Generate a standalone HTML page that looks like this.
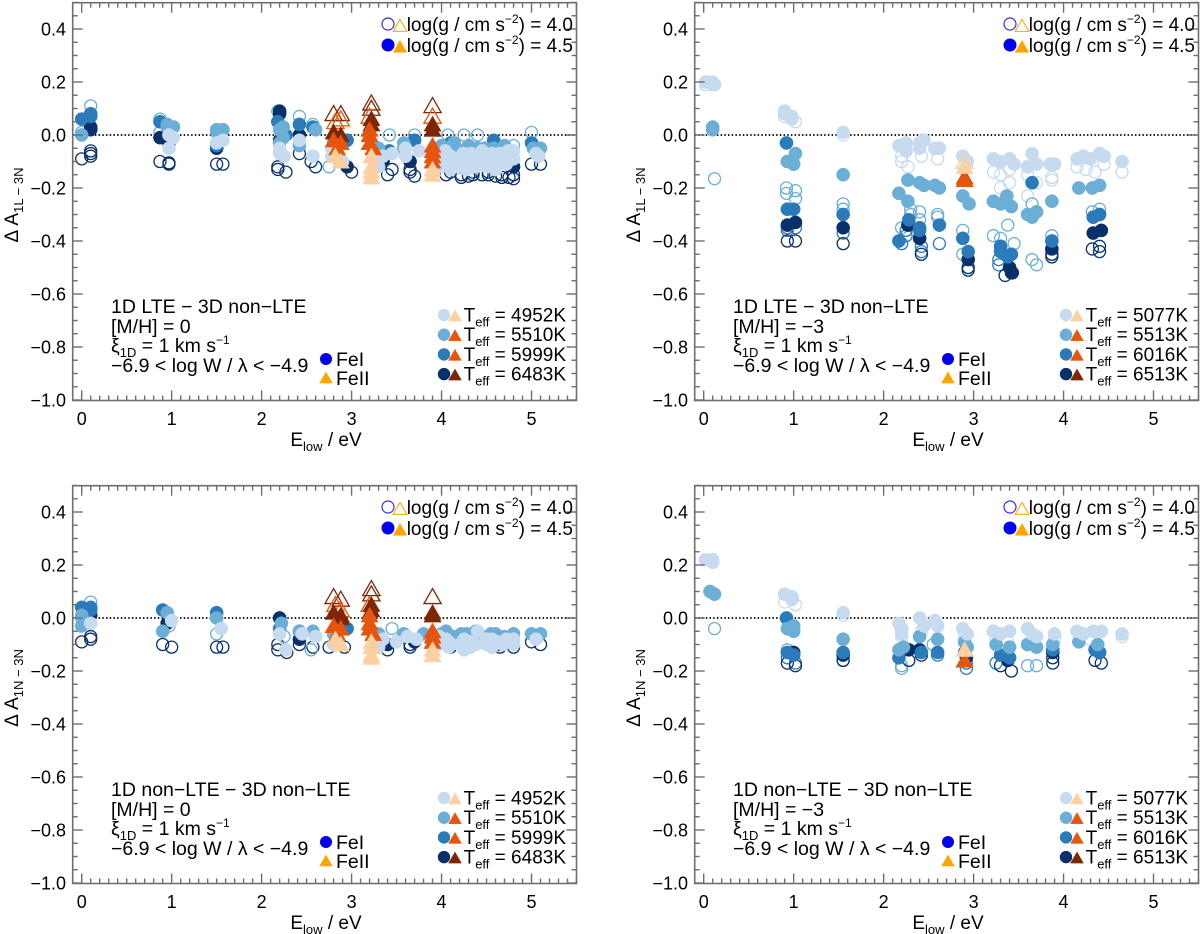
<!DOCTYPE html>
<html><head><meta charset="utf-8">
<style>
html,body{margin:0;padding:0;background:#fff;}
svg{display:block;font-family:"Liberation Sans",Arial,sans-serif;}
</style></head>
<body>
<svg id="fig" width="1200" height="934" viewBox="0 0 1200 934" xmlns="http://www.w3.org/2000/svg"></svg>
<script>
// ---- data (E_low eV, temperature index, filled(logg4.5)=1/open(logg4.0)=0, dA values) ----
const xTicks = [0,1,2,3,4,5];
const yTicks = [0.4,0.2,0.0,-0.2,-0.4,-0.6,-0.8,-1.0];
const yTickLabels = ["0.4","0.2","0.0","\u22120.2","\u22120.4","\u22120.6","\u22120.8","\u22121.0"];
const tempsA = ["4952K","5510K","5999K","6483K"];
const tempsB = ["5077K","5513K","6016K","6513K"];

const p1FeI = [
 [0.0,2,1,[0.06]],[0.0,1,1,[0.0]],[0.0,1,0,[0.01]],[0.0,3,0,[-0.09]],
 [0.1,1,0,[0.11]],[0.1,2,1,[0.08,0.07]],[0.1,3,1,[0.02,0.03]],[0.1,3,0,[-0.06,-0.08,-0.07]],
 [0.87,1,0,[0.06,0.01]],[0.87,2,1,[0.05]],[0.87,3,1,[-0.01]],[0.87,3,0,[-0.1]],
 [0.95,1,1,[0.04,0.03]],[0.97,0,1,[-0.05,0.0]],[0.97,3,1,[-0.02,-0.03]],[0.97,3,0,[-0.105,-0.11]],[1.02,1,1,[0.03]],[1.02,0,1,[-0.01]],
 [1.5,1,1,[0.02,0.01]],[1.5,0,1,[-0.03]],[1.5,3,1,[-0.05]],[1.5,2,1,[-0.04]],[1.5,3,0,[-0.11]],[1.57,1,1,[0.02]],[1.57,3,0,[-0.11]],[1.57,0,1,[-0.02]],
 [2.18,1,0,[0.09]],[2.2,3,1,[0.09,0.08]],[2.18,2,1,[0.05]],[2.2,1,1,[0.02,-0.03]],[2.2,0,1,[-0.05,-0.07]],[2.2,3,1,[-0.02]],[2.18,3,0,[-0.12,-0.13]],[2.27,3,0,[-0.14]],[2.25,0,1,[-0.08]],[2.24,1,1,[0.03,-0.01]],[2.27,2,1,[0.0]],
 [2.42,1,0,[0.07]],[2.42,2,1,[0.04]],[2.42,1,1,[-0.04]],[2.42,3,1,[0.0]],[2.42,3,0,[-0.07]],[2.42,0,1,[-0.02]],
 [2.57,1,0,[0.04]],[2.57,2,1,[0.03]],[2.6,1,1,[0.02]],[2.57,0,1,[-0.08]],[2.55,3,0,[-0.1]],[2.6,3,0,[-0.12]],
 [2.75,1,0,[-0.12]],[2.78,0,1,[-0.05,-0.08]],[2.8,1,1,[-0.03]],[2.95,3,1,[-0.12]],[3.0,3,0,[-0.14]],[2.95,2,1,[-0.02]],[2.9,0,1,[-0.1]],
 [3.3,1,1,[-0.05]],[3.35,0,1,[-0.08]],[3.35,3,1,[-0.1]],[3.4,3,0,[-0.15]],[3.3,0,1,[-0.12]],[3.42,2,1,[-0.06]],[3.42,1,0,[0.0]],[3.45,0,1,[-0.07]],
 [3.58,1,1,[-0.03,-0.05]],[3.6,0,1,[-0.05,-0.08]],[3.65,3,1,[-0.1]],[3.65,3,0,[-0.13,-0.14]],[3.7,1,0,[0.0]],[3.7,2,1,[-0.02]],[3.75,0,1,[-0.06]],
 [4.0,1,1,[-0.04]],[4.0,0,1,[-0.08]],[4.05,3,0,[-0.15]],[4.07,1,0,[0.0]],[4.1,2,1,[-0.03]],
 [4.15,1,1,[-0.05]],[4.18,0,1,[-0.09,-0.12]],[4.2,3,1,[-0.12]],[4.22,3,0,[-0.15,-0.16]],[4.25,1,0,[0.0]],
 [4.3,1,1,[-0.04,-0.06]],[4.33,0,1,[-0.1,-0.07]],[4.35,3,0,[-0.14,-0.15]],[4.4,1,0,[0.0]],[4.42,0,1,[-0.11]],
 [4.48,1,1,[-0.05]],[4.5,0,1,[-0.08,-0.12]],[4.52,3,0,[-0.15,-0.14]],[4.55,3,1,[-0.12]],[4.58,2,1,[-0.02]],
 [4.62,1,1,[-0.06]],[4.65,0,1,[-0.1,-0.07]],[4.67,3,0,[-0.16,-0.15]],[4.7,1,1,[-0.04]],[4.72,0,1,[-0.11]],
 [4.8,1,0,[-0.04]],[4.8,0,1,[-0.06,-0.09]],[4.8,3,1,[-0.12]],[4.8,3,0,[-0.15,-0.165]],
 [5.0,1,0,[0.01]],[5.0,2,1,[-0.03]],[5.02,1,1,[-0.05]],[5.05,0,1,[-0.07]],[5.0,3,0,[-0.11]],[5.1,3,0,[-0.11]],[5.1,1,1,[-0.05]],[5.08,0,1,[-0.08]],
 [3.97,0,1,[-0.1,-0.12]],[4.04,0,1,[-0.06,-0.11]],[4.1,0,1,[-0.08,-0.13]],[4.14,1,1,[-0.03]],[4.24,0,1,[-0.07,-0.11]],[4.28,0,1,[-0.13]],
 [4.38,0,1,[-0.08,-0.12]],[4.45,0,1,[-0.06,-0.1]],[4.56,0,1,[-0.07,-0.11]],[4.6,0,1,[-0.13]],[4.68,0,1,[-0.09]],[4.74,0,1,[-0.06]],
 [4.05,1,1,[-0.05]],[4.22,1,1,[-0.06]],[4.4,1,1,[-0.05]],[4.58,1,1,[-0.05]],
 [4.1,3,0,[-0.14]],[4.3,3,0,[-0.155]],[4.45,3,0,[-0.15]],[4.6,3,0,[-0.155]],[4.75,3,0,[-0.16]],[3.45,3,0,[-0.13]],[3.7,3,0,[-0.155]]
];
const p1FeII = [
 [2.8,3,0,[0.08]],[2.88,3,0,[0.08]],[2.82,2,0,[0.05]],[2.88,2,0,[0.06]],[2.8,3,1,[0.01]],[2.88,3,1,[0.0]],[2.8,2,1,[-0.02]],[2.88,2,1,[-0.03]],[2.84,1,1,[-0.05]],[2.82,0,1,[-0.08]],[2.88,0,1,[-0.1]],
 [3.22,3,0,[0.12,0.1]],[3.2,2,0,[0.07]],[3.22,3,1,[0.06,0.04]],[3.2,2,1,[0.02,0.0,-0.03]],[3.24,1,1,[-0.05]],[3.22,0,1,[-0.08,-0.12,-0.14,-0.16]],
 [3.9,3,0,[0.11]],[3.9,2,0,[0.07]],[3.9,3,1,[0.04,0.02]],[3.9,2,1,[-0.04,-0.06]],[3.9,1,1,[-0.08,-0.1]],[3.9,0,1,[-0.13,-0.15]]
];

const p2FeI = [
 [0.02,0,1,[0.2]],[0.1,0,1,[0.2,0.19]],[0.12,0,1,[0.19]],[0.02,0,0,[0.19]],[0.1,1,1,[0.03,0.02]],[0.12,1,0,[-0.165]],
 [0.9,0,1,[0.09,0.08]],[0.98,0,1,[0.07,0.06]],[0.9,0,0,[0.07]],[1.02,0,0,[0.05]],[0.92,2,1,[-0.03]],[1.02,1,1,[-0.07]],[0.93,1,1,[-0.1]],[1.0,1,1,[-0.11]],
 [0.92,1,0,[-0.2,-0.22]],[1.02,1,0,[-0.21,-0.24]],[0.93,2,1,[-0.28]],[1.0,2,1,[-0.28]],[0.93,3,1,[-0.34]],[1.02,3,1,[-0.33]],[0.93,2,0,[-0.35,-0.36]],[1.02,2,0,[-0.35]],[0.93,3,0,[-0.4]],[1.02,3,0,[-0.4]],
 [1.55,0,1,[0.01]],[1.55,0,0,[0.0]],[1.55,1,1,[-0.15]],[1.55,1,0,[-0.26,-0.28]],[1.55,2,1,[-0.3]],[1.55,3,1,[-0.35]],[1.55,2,0,[-0.37]],[1.55,3,0,[-0.41]],
 [2.17,0,1,[-0.04]],[2.25,0,1,[-0.03,-0.06]],[2.2,0,0,[-0.08,-0.1]],[2.27,0,0,[-0.12]],[2.17,1,1,[-0.22]],[2.27,1,1,[-0.17,-0.25]],[2.3,1,0,[-0.28,-0.3]],[2.2,1,0,[-0.35]],[2.28,2,1,[-0.32]],[2.17,2,1,[-0.4]],[2.27,3,1,[-0.34]],[2.25,2,0,[-0.36,-0.38]],[2.2,2,0,[-0.41]],
 [2.4,0,1,[-0.03,-0.05]],[2.45,0,1,[-0.02]],[2.42,0,0,[-0.08]],[2.4,1,1,[-0.18]],[2.45,1,1,[-0.19]],[2.4,1,0,[-0.29,-0.32]],[2.4,2,1,[-0.35,-0.36]],[2.4,3,1,[-0.39]],[2.42,2,0,[-0.42,-0.44]],[2.42,3,0,[-0.45]],
 [2.57,0,1,[-0.05]],[2.62,0,1,[-0.05]],[2.6,0,0,[-0.09]],[2.57,1,1,[-0.19]],[2.62,1,1,[-0.2]],[2.6,1,0,[-0.3,-0.31]],[2.62,2,1,[-0.34]],[2.62,2,0,[-0.41]],
 [2.88,0,1,[-0.08]],[2.93,0,1,[-0.1]],[2.9,0,0,[-0.13]],[2.88,1,1,[-0.23]],[2.95,1,1,[-0.26]],[2.88,1,0,[-0.36,-0.45]],[2.88,2,1,[-0.39]],[2.94,2,1,[-0.44]],[2.94,3,1,[-0.47]],[2.94,3,0,[-0.5,-0.51]],
 [3.22,0,1,[-0.09]],[3.3,0,1,[-0.1]],[3.4,0,1,[-0.09]],[3.45,0,1,[-0.11]],[3.22,0,0,[-0.14]],[3.3,0,0,[-0.15,-0.2]],[3.4,0,0,[-0.18,-0.13]],
 [3.22,1,1,[-0.25]],[3.3,1,1,[-0.26]],[3.37,1,1,[-0.23]],[3.42,1,1,[-0.27]],[3.22,1,0,[-0.38]],[3.3,1,0,[-0.39]],[3.38,1,0,[-0.34]],[3.45,1,0,[-0.41]],
 [3.3,2,1,[-0.42,-0.44]],[3.38,2,1,[-0.46]],[3.42,2,1,[-0.45]],[3.28,2,0,[-0.47,-0.49]],[3.4,3,1,[-0.5]],[3.43,3,1,[-0.52]],[3.35,3,0,[-0.53]],[3.42,3,0,[-0.52]],
 [3.6,0,1,[-0.12]],[3.65,0,1,[-0.07]],[3.7,0,1,[-0.11]],[3.6,0,0,[-0.15,-0.23]],[3.7,0,0,[-0.18]],[3.6,1,1,[-0.3]],[3.65,1,1,[-0.31]],[3.7,1,1,[-0.29]],[3.65,1,0,[-0.26,-0.47]],[3.7,1,0,[-0.49]],[3.65,2,1,[-0.18]],
 [3.85,0,1,[-0.11]],[3.9,0,1,[-0.11]],[3.87,0,0,[-0.16,-0.17]],[3.87,1,1,[-0.25]],[3.87,1,0,[-0.38]],[3.87,2,1,[-0.4]],[3.87,3,1,[-0.43]],[3.87,3,0,[-0.45,-0.46]],
 [4.15,0,1,[-0.09]],[4.22,0,1,[-0.08]],[4.3,0,1,[-0.09]],[4.4,0,1,[-0.07]],[4.45,0,1,[-0.08]],[4.15,0,0,[-0.12]],[4.25,0,0,[-0.13]],[4.35,0,0,[-0.14]],[4.45,0,0,[-0.11]],
 [4.17,1,1,[-0.2]],[4.32,1,1,[-0.2]],[4.4,1,1,[-0.19]],[4.32,1,0,[-0.29]],[4.4,1,0,[-0.28,-0.3]],[4.33,2,1,[-0.31]],[4.4,2,1,[-0.3]],[4.33,3,1,[-0.37]],[4.42,3,1,[-0.36]],[4.32,3,0,[-0.43]],[4.4,3,0,[-0.42,-0.44]],
 [4.65,0,1,[-0.1]],[4.65,0,0,[-0.14]]
];
const p2FeII = [
 [2.9,0,0,[-0.1]],[2.9,3,1,[-0.16]],[2.9,2,1,[-0.17]],[2.9,1,1,[-0.16]],[2.9,0,1,[-0.12]]
];

const p3FeI = [
 [0.0,2,1,[0.04]],[0.0,1,1,[0.01,-0.03]],[0.0,1,0,[0.0]],[0.0,3,0,[-0.09]],
 [0.1,1,0,[0.06]],[0.1,2,1,[0.04,0.03]],[0.1,3,1,[0.01]],[0.1,0,1,[-0.02]],[0.1,3,0,[-0.07,-0.08]],
 [0.9,2,1,[0.03]],[0.95,1,1,[0.02]],[1.0,0,1,[-0.01]],[0.95,3,1,[-0.02]],[0.9,1,1,[-0.05]],[0.97,1,0,[-0.03]],[0.9,3,0,[-0.1]],[1.0,3,0,[-0.11]],
 [1.5,2,1,[0.02]],[1.5,1,1,[0.0]],[1.55,0,1,[-0.04]],[1.5,1,0,[-0.06]],[1.5,3,0,[-0.11]],[1.57,3,0,[-0.11]],
 [2.2,3,1,[0.0]],[2.22,1,1,[-0.02]],[2.2,2,1,[-0.04]],[2.2,0,1,[-0.06]],[2.18,3,0,[-0.1,-0.12]],[2.27,0,1,[-0.12]],[2.25,1,0,[-0.07]],[2.28,3,0,[-0.13]],
 [2.42,1,1,[-0.05]],[2.45,0,1,[-0.06]],[2.42,3,1,[-0.08]],[2.42,3,0,[-0.1]],[2.42,2,1,[-0.05]],[2.57,1,1,[-0.05]],[2.6,0,1,[-0.07]],[2.57,3,0,[-0.11]],[2.55,1,0,[-0.12]],
 [2.8,1,1,[-0.06]],[2.85,0,1,[-0.08]],[2.92,3,0,[-0.11]],[2.95,2,1,[-0.04]],[2.75,3,0,[-0.11]],[2.8,0,1,[-0.1]],
 [3.3,1,1,[-0.06]],[3.35,0,1,[-0.08]],[3.4,3,1,[-0.1]],[3.4,3,0,[-0.12]],[3.45,1,0,[-0.04]],[3.3,0,1,[-0.11]],
 [3.58,1,1,[-0.06]],[3.62,0,1,[-0.07]],[3.7,3,1,[-0.09]],[3.65,3,0,[-0.1,-0.11]],[3.72,0,1,[-0.08]],
 [4.0,1,1,[-0.06]],[4.05,0,1,[-0.08]],[4.1,3,1,[-0.09]],[4.1,3,0,[-0.11]],[4.15,1,1,[-0.07]],[4.2,0,1,[-0.1]],
 [4.28,1,1,[-0.06]],[4.32,0,1,[-0.09,-0.11]],[4.35,3,0,[-0.1]],[4.4,0,1,[-0.05]],[4.45,1,1,[-0.07]],[4.5,0,1,[-0.08,-0.1]],
 [4.55,3,1,[-0.09]],[4.6,1,1,[-0.06]],[4.62,0,1,[-0.09]],[4.65,3,0,[-0.1,-0.11]],[4.7,1,1,[-0.07]],[4.72,0,1,[-0.08]],
 [4.8,0,1,[-0.08,-0.1]],[4.8,1,1,[-0.06]],[4.8,3,0,[-0.11]],
 [5.0,1,1,[-0.06]],[5.05,0,1,[-0.08]],[5.0,3,0,[-0.09]],[5.1,3,0,[-0.1]],[5.1,1,1,[-0.06]],
 [3.97,0,1,[-0.07,-0.1]],[4.08,0,1,[-0.09,-0.11]],[4.25,0,1,[-0.08,-0.12]],[4.38,0,1,[-0.1]],[4.56,0,1,[-0.08,-0.11]],[4.68,0,1,[-0.1]],
 [4.05,1,1,[-0.05]],[4.22,1,1,[-0.06]],[4.38,1,1,[-0.05]],[4.55,1,1,[-0.06]],[3.5,0,1,[-0.09]],[3.8,1,1,[-0.06]]
];
const p3FeII = [
 [2.8,3,0,[0.08]],[2.88,3,0,[0.07]],[2.82,2,0,[0.05]],[2.88,2,0,[0.03]],[2.8,3,1,[0.02]],[2.88,3,1,[0.0,0.01]],[2.8,2,1,[-0.03]],[2.88,2,1,[-0.04]],[2.84,1,1,[-0.06]],[2.82,0,1,[-0.08]],[2.88,0,1,[-0.1]],
 [3.22,3,0,[0.11,0.09]],[3.2,2,0,[0.05]],[3.22,3,1,[0.05,0.03]],[3.2,2,1,[0.01,-0.02,-0.04]],[3.24,1,1,[-0.06]],[3.22,0,1,[-0.09,-0.11,-0.14,-0.15]],
 [3.9,3,0,[0.08]],[3.9,3,1,[0.02,0.01]],[3.9,2,1,[-0.05,-0.07]],[3.9,1,1,[-0.09]],[3.9,0,1,[-0.12,-0.14]]
];

const p4FeI = [
 [0.02,0,1,[0.22]],[0.1,0,1,[0.22,0.21]],[0.07,1,1,[0.1]],[0.12,1,1,[0.09]],[0.12,1,0,[-0.04]],
 [0.9,0,1,[0.09]],[0.98,0,1,[0.08,0.07]],[0.9,0,0,[0.06]],[1.02,0,0,[0.05]],[0.92,2,1,[0.0]],[0.93,1,1,[-0.04]],[1.0,1,1,[-0.03,-0.05]],[0.93,1,0,[-0.12]],
 [0.93,2,1,[-0.13]],[1.0,2,1,[-0.14]],[1.0,3,1,[-0.13]],[0.93,2,0,[-0.15]],[1.02,2,0,[-0.17]],[0.93,3,0,[-0.17]],[1.02,3,0,[-0.18]],
 [1.55,0,1,[0.02]],[1.55,0,0,[0.01]],[1.55,1,1,[-0.08]],[1.55,2,1,[-0.13]],[1.55,3,1,[-0.14]],[1.55,2,0,[-0.16]],[1.55,3,0,[-0.16]],
 [2.17,0,1,[-0.02]],[2.2,0,1,[-0.04,-0.06]],[2.2,0,0,[-0.05,-0.07]],[2.17,1,1,[-0.12]],[2.22,1,1,[-0.11]],[2.17,2,1,[-0.15]],[2.2,1,0,[-0.18,-0.19]],[2.28,3,1,[-0.12]],[2.28,3,0,[-0.16]],
 [2.4,0,1,[0.0]],[2.45,0,1,[-0.03]],[2.42,0,0,[-0.05]],[2.4,1,1,[-0.07]],[2.4,3,1,[-0.12]],[2.42,2,1,[-0.13]],[2.42,3,0,[-0.14]],
 [2.57,0,1,[-0.01]],[2.6,0,1,[-0.03]],[2.6,1,1,[-0.08]],[2.55,1,0,[-0.1]],[2.6,2,1,[-0.13]],[2.6,2,0,[-0.14]],
 [2.88,0,1,[-0.04]],[2.93,0,1,[-0.06]],[2.9,0,0,[-0.07]],[2.9,1,1,[-0.09]],[2.93,1,1,[-0.11]],[2.9,2,1,[-0.13]],[2.92,3,1,[-0.15]],[2.92,2,0,[-0.19,-0.17]],
 [3.22,0,1,[-0.05]],[3.3,0,1,[-0.06]],[3.4,0,1,[-0.05]],[3.25,0,0,[-0.08]],[3.38,0,0,[-0.09]],[3.25,1,1,[-0.1]],[3.4,1,1,[-0.11]],[3.3,2,1,[-0.14]],[3.4,2,1,[-0.15]],[3.38,3,1,[-0.16]],[3.25,2,0,[-0.17]],[3.3,3,0,[-0.18]],[3.42,3,0,[-0.2]],
 [3.6,0,1,[-0.04]],[3.65,0,1,[-0.06]],[3.7,0,1,[-0.07]],[3.65,0,0,[-0.09]],[3.6,1,1,[-0.1]],[3.7,1,1,[-0.11]],[3.6,1,0,[-0.18]],[3.7,1,0,[-0.18]],
 [3.9,0,1,[-0.06]],[3.9,0,0,[-0.08]],[3.88,1,1,[-0.1]],[3.88,2,1,[-0.12]],[3.88,3,1,[-0.13]],[3.88,3,0,[-0.15,-0.17]],
 [4.15,0,1,[-0.05]],[4.22,0,1,[-0.06]],[4.33,0,1,[-0.05]],[4.42,0,1,[-0.05]],[4.3,0,0,[-0.08]],[4.17,1,1,[-0.09]],[4.38,1,1,[-0.1]],[4.35,2,1,[-0.12]],[4.4,2,1,[-0.13]],[4.4,3,1,[-0.13]],[4.35,3,0,[-0.16]],[4.42,3,0,[-0.17]],
 [4.65,0,1,[-0.06]],[4.65,0,0,[-0.07]]
];
const p4FeII = [
 [2.9,3,1,[-0.16]],[2.9,1,1,[-0.16]],[2.9,0,1,[-0.12]]
];

const panelTitles = ["1D LTE \u2212 3D non\u2212LTE","1D LTE \u2212 3D non\u2212LTE","1D non\u2212LTE \u2212 3D non\u2212LTE","1D non\u2212LTE \u2212 3D non\u2212LTE"];
const panelMetal = ["[M/H] =  0","[M/H] = \u22123","[M/H] =  0","[M/H] = \u22123"];
const panelYSub = ["1L \u2212 3N","1L \u2212 3N","1N \u2212 3N","1N \u2212 3N"];

// ---- styling ----
const blue = ["#c6dbef","#6baed6","#2b7bba","#08306b"];
const orng = ["#fdd0a2","#e6550d","#e6550d","#7f2704"];
const NS = "http://www.w3.org/2000/svg";
const svg = document.getElementById("fig");
function mk(tag, attrs, parent){
  const e = document.createElementNS(NS, tag);
  for (const k in attrs) e.setAttribute(k, attrs[k]);
  (parent||svg).appendChild(e);
  return e;
}
const L=72.7, R=576.5, T=2.7, B=400.5;
const xmin=-0.1, xmax=5.5;
function xs(v){return L+(v-xmin)/(xmax-xmin)*(R-L);}
function ys(v){return 135-(v)*265;}
const CR=6.6, TW=8.6, TH=15;

function circle(g,x,y,col,filled){
  return mk("circle",{cx:x,cy:y,r:filled?CR:CR-0.6,fill:filled?col:"none",stroke:col,"stroke-width":filled?0.5:1.3},g);
}
function tri(g,x,y,col,filled){
  const pts=(x-TW)+","+(y+TH*0.45)+" "+(x+TW)+","+(y+TH*0.45)+" "+x+","+(y-TH*0.55);
  return mk("polygon",{points:pts,fill:filled?col:"none",stroke:col,"stroke-width":filled?0.5:1.3},g);
}
function text(g,x,y,str,size,anchor){
  const t = mk("text",{x:x,y:y,"font-size":size,"text-anchor":anchor||"start",fill:"#000"},g);
  t.textContent=str; return t;
}
// draw order: open markers first, then filled from hottest (dark) to coolest (light)
function order(d){ return d[2]===0 ? 0 : 1 + (3-d[1]); }

const panels = [
 {dx:0,dy:0,fe1:p1FeI,fe2:p1FeII,temps:tempsA},
 {dx:622,dy:0,fe1:p2FeI,fe2:p2FeII,temps:tempsB},
 {dx:0,dy:483,fe1:p3FeI,fe2:p3FeII,temps:tempsA},
 {dx:622,dy:483,fe1:p4FeI,fe2:p4FeII,temps:tempsB}
];

panels.forEach((p,pi)=>{
  const g = mk("g",{transform:"translate("+p.dx+","+p.dy+")"});
  
  
  const zl = mk("line",{x1:L,x2:R,y1:ys(0),y2:ys(0),stroke:"#000","stroke-width":1.8,"stroke-dasharray":"1.5,2.2"},g);
  
  
  const pg = mk("g",{},g);
  
  
  const sorted1 = p.fe1.slice().sort((a,b)=>order(a)-order(b));
  sorted1.forEach(d=>{ d[3].forEach(v=>{
    const c = circle(pg,xs(d[0]),ys(v),blue[d[1]],d[2]===1);
    
    
  });});
  const tg = mk("g",{},g);
  
  
  p.fe2.forEach(d=>{ d[3].forEach(v=>{
    const t = tri(tg,xs(d[0]),ys(v),orng[d[1]],d[2]===1);
    
    
  });});
  const fr = mk("rect",{x:L,y:T,width:R-L,height:B-T,fill:"none",stroke:"#6e6e6e","stroke-width":1.6},g);
  
  
  const tk = mk("g",{stroke:"#6e6e6e","stroke-width":1.4},g);
  
  
  for(let i=0;i<=55;i++){
    const v=i/10, x=xs(v), len=(i%10===0)?10:5;
    mk("line",{x1:x,x2:x,y1:B,y2:B-len},tk);
    mk("line",{x1:x,x2:x,y1:T,y2:T+len},tk);
  }
  for(let i=-20;i<=10;i++){
    const v=i*0.05, y=ys(v), len=(i%4===0)?10:5;
    mk("line",{x1:L,x2:L+len,y1:y,y2:y},tk);
    mk("line",{x1:R,x2:R-len,y1:y,y2:y},tk);
  }
  xTicks.forEach(v=>{
    const t=text(g,xs(v),425,String(v),18,"middle");
    
    
  });
  yTicks.forEach((v,i)=>{
    const t=text(g,66,ys(v)+6.5,yTickLabels[i],18,"end");
    
    
  });
  const xt = mk("text",{x:326,y:446,"font-size":19,"text-anchor":"middle"},g);
  xt.innerHTML='E<tspan font-size="13" dy="5">low</tspan><tspan dy="-5"> / eV</tspan>';
  
  
  const yt = mk("text",{x:0,y:0,"font-size":19,"text-anchor":"middle",transform:"translate(18,205) rotate(-90)"},g);
  yt.innerHTML='\u0394 A<tspan font-size="13" dy="5">'+panelYSub[pi]+'</tspan>';
  
  
  // gravity legend
  const lg = mk("g",{},g);
  
  
  mk("circle",{cx:388,cy:24,r:6,fill:"none",stroke:"#3030e0","stroke-width":1.2},lg);
  tri(lg,400,26,"#ffa500",false).setAttribute("transform","translate(400,26) scale(0.8) translate(-400,-26)");
  mk("circle",{cx:388,cy:45,r:6.5,fill:"#0000ee"},lg);
  tri(lg,400,47,"#ffa500",true).setAttribute("transform","translate(400,47) scale(0.8) translate(-400,-47)");
  const g1=mk("text",{x:573,y:31,"font-size":19,"text-anchor":"end"},lg);
  g1.innerHTML='log(g / cm s<tspan font-size="12" dy="-8">\u22122</tspan><tspan dy="8">) = 4.0</tspan>';
  const g2=mk("text",{x:573,y:52,"font-size":19,"text-anchor":"end"},lg);
  g2.innerHTML='log(g / cm s<tspan font-size="12" dy="-8">\u22122</tspan><tspan dy="8">) = 4.5</tspan>';
  // temperature legend
  const tl = mk("g",{},g);
  
  
  p.temps.forEach((s,i)=>{
    const y=315+i*19.7;
    mk("circle",{cx:444,cy:y,r:6.2,fill:blue[i]},tl);
    tri(tl,455,y+1,orng[i],true).setAttribute("transform","translate(455,"+(y+1)+") scale(0.75) translate(-455,"+(-(y+1))+")");
    const t=mk("text",{x:566,y:y+6.5,"font-size":19,"text-anchor":"end"},tl);
    t.innerHTML='T<tspan font-size="13" dy="5">eff</tspan><tspan dy="-5"> = '+s+'</tspan>';
    
    
  });
  const an = mk("g",{},g);
  
  
  text(an,111,313,panelTitles[pi],19.5);
  text(an,111,333,panelMetal[pi],19.5);
  const xi=mk("text",{x:111,y:352,"font-size":19.5},an);
  xi.innerHTML='\u03BE<tspan font-size="13" dy="5">1D</tspan><tspan dy="-5"> = 1 km s</tspan><tspan font-size="12" dy="-8">\u22121</tspan>';
  text(an,111,372,"\u22126.9 < log W / \u03BB < \u22124.9",19.5);
  const sp = mk("g",{},g);
  
  
  mk("circle",{cx:326,cy:359,r:6,fill:"#0000ee"},sp);
  tri(sp,326,378,"#ffa500",true).setAttribute("transform","translate(326,378) scale(0.75) translate(-326,-378)");
  text(sp,336,366,"FeI",19.5);
  text(sp,336,385,"FeII",19.5);
});
</script>
</body></html>
